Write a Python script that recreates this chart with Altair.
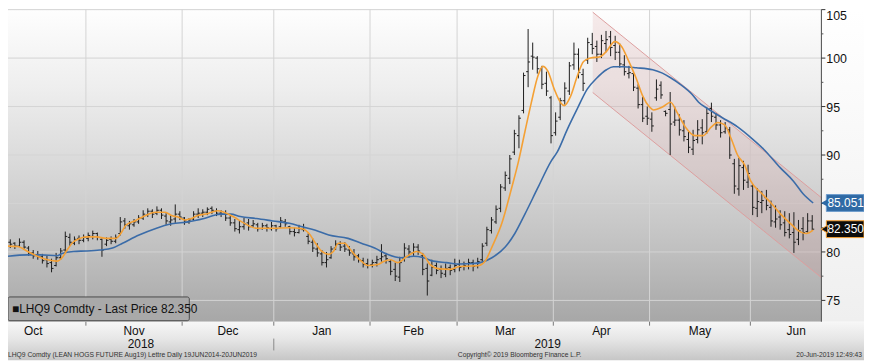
import altair as alt
import pandas as pd

# ---------------- data ----------------
high = [
    81.3, 81.0, 81.4, 81.2, 80.6, 80.2, 80.1, 79.8, 79.6, 79.3,
    79.9, 80.4, 82.1, 81.9, 81.6, 81.7, 81.8, 82.0, 82.2, 82.0,
    81.4, 81.5, 81.6, 81.8, 83.6, 83.5, 83.2, 83.4, 83.8, 84.3,
    84.5, 84.4, 84.7, 84.5, 84.0, 83.8, 84.9, 84.2, 83.6, 83.5,
    84.2, 84.5, 84.4, 84.6, 84.7, 84.5, 84.3, 84.3, 83.9, 83.4,
    83.2, 83.5, 83.4, 83.3, 83.0, 83.0, 82.9, 83.1, 82.8, 83.6,
    83.4, 82.7, 82.5, 82.8, 82.9, 81.9, 81.4, 80.9, 80.2, 80.0,
    80.6, 81.2, 81.1, 81.0, 80.6, 80.3, 79.8, 79.4, 79.3, 79.2,
    79.6, 80.8, 79.9, 79.2, 78.9, 79.5, 80.9, 80.7, 80.9, 80.8,
    79.9, 78.8, 79.2, 78.9, 78.6, 78.8, 78.7, 79.3, 79.2, 79.0,
    79.3, 79.2, 79.4, 80.9, 82.6, 83.6, 84.8, 87.0, 88.3, 90.0,
    92.6, 94.1, 98.5, 103.0, 101.6, 100.2, 99.2, 98.6, 96.1, 94.4,
    95.9, 97.5, 99.6, 101.6, 101.0, 98.9, 102.1, 102.6, 101.8, 102.4,
    102.8, 102.8, 102.3, 101.5, 100.3, 99.2, 98.4, 97.3, 96.0, 95.0,
    94.4, 97.8, 97.6, 94.6, 96.5, 95.0, 94.2, 93.6, 92.4, 92.6,
    93.6, 93.7, 94.9, 95.4, 94.3, 93.6, 93.4, 92.9, 89.6, 89.7,
    89.4, 89.0, 87.0, 86.6, 86.3, 86.4, 85.3, 84.8, 84.3, 84.2,
    84.0, 84.1, 83.3, 83.6, 84.0, 83.8,
]
low = [
    80.4, 80.3, 80.5, 80.2, 79.6, 79.3, 79.2, 78.8, 78.4, 77.9,
    78.5, 79.2, 80.0, 80.6, 80.7, 80.8, 81.0, 81.1, 81.3, 81.2,
    79.5, 80.6, 80.8, 80.9, 81.7, 82.4, 82.3, 82.6, 82.9, 83.3,
    83.6, 83.5, 83.8, 83.4, 82.8, 82.7, 83.0, 83.3, 82.8, 82.9,
    83.2, 83.5, 83.6, 83.8, 83.9, 83.7, 83.6, 83.2, 82.7, 82.1,
    81.9, 82.3, 82.2, 82.6, 82.1, 82.3, 82.1, 82.2, 82.1, 82.5,
    82.6, 81.8, 81.6, 81.9, 82.1, 80.8, 80.0, 79.5, 78.6, 78.4,
    79.3, 80.2, 80.1, 80.0, 79.6, 79.1, 78.9, 78.4, 78.3, 78.4,
    78.5, 79.0, 78.8, 77.6, 77.0, 76.9, 79.0, 79.4, 79.6, 79.7,
    77.6, 75.5, 77.5, 77.7, 77.3, 77.4, 77.6, 77.9, 78.0, 78.1,
    78.2, 78.0, 78.3, 79.0, 80.6, 81.9, 82.9, 84.1, 86.3, 87.0,
    90.0, 90.7, 94.3, 97.0, 98.8, 98.4, 96.8, 96.1, 91.2, 92.0,
    93.6, 95.2, 96.2, 98.8, 97.9, 96.6, 99.4, 100.4, 99.6, 100.0,
    100.6, 100.2, 99.8, 99.0, 98.2, 97.9, 96.6, 94.8, 93.4, 93.1,
    92.4, 95.6, 95.8, 94.0, 90.0, 93.0, 92.0, 91.4, 90.2, 90.0,
    91.2, 91.1, 92.2, 93.4, 92.6, 91.8, 92.2, 89.6, 86.0, 85.8,
    86.4, 86.6, 83.8, 83.6, 84.0, 84.3, 82.6, 82.5, 82.3, 81.6,
    81.4, 79.9, 80.7, 81.2, 82.0, 82.2,
]
open_ = [
    81.0, 80.9, 80.6, 81.0, 80.4, 79.9, 79.7, 79.5, 79.2, 78.9,
    78.6, 79.4, 80.2, 81.5, 80.9, 81.4, 81.2, 81.4, 81.6, 81.9,
    81.3, 80.8, 81.3, 81.1, 81.9, 83.2, 82.7, 82.8, 83.1, 83.5,
    83.8, 84.2, 84.0, 84.3, 83.7, 83.1, 83.4, 83.9, 83.5, 83.1,
    83.4, 83.9, 84.0, 84.1, 84.5, 84.2, 84.0, 83.9, 83.5, 83.0,
    82.3, 82.6, 83.0, 82.7, 82.8, 82.4, 82.7, 82.4, 82.7, 82.6,
    83.1, 82.6, 82.1, 82.0, 82.3, 81.6, 81.0, 80.3, 79.8, 78.9,
    79.4, 80.4, 80.8, 80.6, 80.2, 79.8, 79.6, 79.1, 78.8, 78.7,
    78.9, 79.3, 79.6, 79.0, 78.2, 77.4, 79.3, 80.3, 79.9, 80.5,
    79.6, 78.3, 77.6, 78.6, 78.2, 77.7, 78.4, 78.2, 78.7, 78.5,
    78.5, 78.9, 78.6, 79.2, 80.9, 82.2, 83.1, 84.5, 86.6, 87.6,
    90.3, 92.0, 94.6, 98.6, 100.2, 100.0, 98.9, 97.4, 95.9, 92.3,
    93.9, 95.6, 96.6, 99.3, 100.4, 98.3, 99.8, 101.4, 101.2, 100.4,
    101.5, 102.2, 101.3, 100.6, 99.3, 98.4, 98.4, 96.9, 95.2, 94.0,
    93.7, 95.9, 97.2, 94.5, 94.7, 93.4, 93.6, 92.5, 91.6, 90.6,
    91.6, 92.8, 92.4, 94.8, 93.9, 93.1, 92.4, 92.6, 89.1, 86.5,
    88.7, 87.2, 86.8, 84.5, 85.1, 85.6, 84.6, 83.1, 83.6, 83.0,
    82.3, 82.0, 81.3, 82.4, 82.1, 83.2,
]
close = [
    80.8, 80.6, 81.0, 80.5, 79.9, 79.6, 79.5, 79.1, 78.8, 78.3,
    79.4, 80.1, 81.6, 81.0, 81.3, 81.2, 81.5, 81.7, 81.9, 81.5,
    80.2, 81.2, 81.1, 81.5, 83.1, 82.8, 82.9, 83.1, 83.5, 83.9,
    84.2, 83.9, 84.3, 83.8, 83.2, 83.3, 83.9, 83.6, 83.2, 83.3,
    83.9, 84.0, 84.1, 84.4, 84.3, 84.0, 83.9, 83.5, 83.0, 82.4,
    82.6, 82.9, 82.6, 82.9, 82.4, 82.7, 82.5, 82.7, 82.4, 83.2,
    82.9, 82.1, 82.0, 82.4, 82.5, 81.1, 80.4, 79.9, 78.9, 79.2,
    80.3, 80.8, 80.5, 80.3, 79.9, 79.5, 79.2, 78.7, 78.6, 78.9,
    79.2, 79.5, 79.3, 78.0, 77.5, 78.9, 80.4, 80.0, 80.5, 80.1,
    78.2, 77.0, 78.4, 78.1, 77.8, 78.3, 78.1, 78.6, 78.4, 78.6,
    78.9, 78.5, 79.0, 80.6, 82.3, 83.3, 84.4, 86.7, 87.9, 89.6,
    92.2, 93.8, 98.2, 99.6, 100.1, 98.9, 97.3, 96.6, 92.0, 93.5,
    95.6, 96.9, 99.2, 100.4, 98.5, 97.4, 101.6, 101.0, 100.4, 101.8,
    101.9, 101.1, 100.6, 99.4, 98.6, 98.5, 97.0, 95.2, 93.8, 93.8,
    93.0, 96.8, 96.2, 94.3, 93.2, 93.6, 92.6, 91.9, 90.8, 91.5,
    92.6, 92.3, 94.3, 94.0, 93.1, 92.3, 92.8, 90.0, 86.8, 88.9,
    87.4, 88.1, 84.6, 85.2, 85.3, 84.8, 83.2, 83.4, 82.8, 82.0,
    81.8, 81.0, 82.2, 82.0, 83.2, 82.35,
]

# orange (fast) average, read as points along the curve (bar index, price)
fast_x = [-0.5, 1.6, 3.8, 5.9, 8.1, 10.2, 11.3, 12.4, 13.8, 15.2, 16.6, 18.8, 20.9,
          23.1, 24.1, 25.2, 27.4, 29.5, 31.6, 33.8, 35.2, 36.6, 38.1, 39.5, 40.9,
          43.1, 45.2, 46.6, 48.8, 50.9, 53.7, 57.3, 60.9, 63.7, 65.2, 66.6, 68.0,
          69.5, 70.5, 71.6, 73.0, 73.7, 75.2, 76.6, 78.0, 80.2, 81.6, 83.0, 84.5,
          86.6, 88.7, 90.2, 91.6, 93.7, 95.9, 98.0, 100.9, 102.3, 103.7, 105.1,
          107.3, 109.4, 110.9, 112.3, 113.7, 115.1, 116.2, 117.3, 118.7, 120.1,
          120.9, 122.3, 123.7, 125.1, 126.6, 128.7, 130.1, 131.9, 133.4, 134.8,
          136.6, 138.0, 139.4, 140.4, 142.3, 144.1, 145.5, 147.3, 149.4, 151.2,
          153.0, 154.4, 155.9, 157.3, 158.7, 160.2, 161.6, 163.7, 165.9, 168.0,
          170.2, 172.3, 173.7, 175.2]
fast_y = [80.6, 80.56, 80.05, 79.55, 79.2, 79.05, 79.4, 80.2, 81.05, 81.4, 81.55, 81.55, 81.4,
          81.4, 81.9, 82.75, 83.25, 83.75, 84.1, 84.1, 83.75, 83.6, 83.3, 83.45, 83.75,
          83.95, 84.25, 84.1, 83.6, 83.0, 82.45, 82.45, 82.5, 82.4, 81.9, 80.9, 80.05,
          79.75, 80.05, 80.9, 80.9, 80.55, 79.7, 79.05, 78.6, 78.7, 79.05, 79.2, 78.9,
          79.55, 80.05, 79.7, 78.7, 78.25, 78.2, 78.5, 78.55, 78.6, 79.1, 80.5,
          83.0, 86.6, 89.35, 92.4, 95.4, 98.1, 99.15, 98.65, 96.8, 95.4,
          95.1, 96.1, 98.1, 99.65, 100.0, 100.15, 100.7, 101.7, 101.2, 99.85,
          97.9, 96.1, 95.0, 94.65, 94.95, 95.45, 94.4, 92.9, 92.0, 92.0,
          92.9, 93.35, 93.1, 91.7, 90.0, 89.0, 87.3, 86.15, 85.1, 83.95,
          82.95, 82.1, 81.9, 82.25]

# blue (slow) average
slow_x = [-0.5, 3.8, 6.6, 10.2, 11.3, 13.8, 16.6, 19.5, 22.3, 24.5, 28.1, 31.6, 35.2,
          38.8, 42.3, 45.9, 48.1, 50.2, 53.7, 57.3, 60.9, 63.7, 66.6, 69.5, 73.7,
          76.6, 79.5, 82.3, 85.2, 88.0, 90.2, 92.3, 95.2, 98.0, 100.9, 103.0, 105.1,
          108.0, 110.1, 112.3, 115.1, 118.0, 119.4, 121.6, 123.7, 125.9, 128.0,
          130.1, 131.6, 133.7, 136.6, 140.2, 142.3, 144.0, 146.2, 148.7, 150.2,
          152.3, 155.2, 158.7, 161.6, 164.4, 168.0, 170.9, 173.0, 175.2]
slow_y = [79.55, 79.7, 79.7, 79.6, 79.85, 80.05, 80.1, 80.2, 80.4, 80.9, 81.75, 82.4, 82.9,
          83.1, 83.45, 83.9, 83.9, 83.65, 83.45, 83.2, 82.95, 82.6, 82.25, 81.75, 81.4,
          80.9, 80.4, 79.75, 79.4, 79.55, 79.4, 79.05, 78.9, 78.75, 78.8, 78.95, 79.4,
          80.5, 81.9, 83.9, 86.6, 89.35, 90.35, 92.7, 94.75, 96.8, 97.95,
          98.8, 99.1, 99.1, 99.0, 98.8, 98.45, 98.0, 97.3, 96.3, 95.45,
          94.75, 93.9, 92.9, 91.8, 90.6, 88.7, 87.3, 86.0, 85.05]

month_labels = ["Oct", "Nov", "Dec", "Jan", "Feb", "Mar", "Apr", "May", "Jun"]
month_centres = [5.0, 27.0, 47.5, 68.0, 88.0, 108.0, 129.0, 150.5, 171.5]
month_starts = [16.5, 37.5, 57.5, 78.5, 97.5, 118.5, 139.5, 161.5]
year_labels = ["2018", "2019"]
year_centres = [28.5, 117.25]
year_breaks = [57.5]
price_ticks = [75, 80, 85, 90, 95, 100, 105]
price_labelled = [75, 80, 90, 95, 100]
price_top = [105]
price_minor = [77.5, 82.5, 87.5, 92.5, 97.5, 102.5]
channel_x = [127.1, 177.0]
channel_top = [104.74, 85.6]
channel_bottom = [96.45, 77.35]
last_price = 82.35
slow_last = 85.051

# ---------------- layout ----------------
W, H = 821, 315
RIGHT, BOTTOM = 43, 39
FONT = "Liberation Sans"
BAR = "#1c1c1c"
ORANGE = "#f4a034"
BLUE = "#3b6ca8"

xs = alt.Scale(domain=[-0.5, 177.0], nice=False, zero=False)
ys = alt.Scale(domain=[72.8, 105.0], nice=False, zero=False)


def X(f):
    return alt.X(f, type="quantitative", scale=xs, axis=None)


def Y(f):
    return alt.Y(f, type="quantitative", scale=ys, axis=None)


def grad(stops):
    return alt.LinearGradient(
        gradient="linear", x1=0, x2=0, y1=0, y2=1,
        stops=[alt.GradientStop(color=c, offset=o) for o, c in stops])


one = pd.DataFrame({"k": [0]})
bars = pd.DataFrame({"i": list(range(len(close))), "o": open_, "h": high, "l": low, "c": close})
fast = pd.DataFrame({"i": fast_x, "v": fast_y})
slow = pd.DataFrame({"i": slow_x, "v": slow_y})
chan = pd.DataFrame({"i": channel_x, "top": channel_top, "bot": channel_bottom})
months = pd.DataFrame({"i": month_centres, "m": month_labels})
bounds = pd.DataFrame({"i": month_starts})
years = pd.DataFrame({"i": year_centres, "y": year_labels})
ybreak = pd.DataFrame({"i": year_breaks})
grid_df = pd.DataFrame({"v": price_ticks})
labels_df = pd.DataFrame({"v": price_labelled, "t": [str(v) for v in price_labelled]})
top_df = pd.DataFrame({"v": price_top, "t": [str(v) for v in price_top]})
minor_df = pd.DataFrame({"v": price_minor})
slow_lab = pd.DataFrame({"v": [slow_last]})
last_lab = pd.DataFrame({"v": [last_price]})

layers = []

# backgrounds
layers.append(alt.Chart(one).mark_rect(
    fill=grad([(0, "#fefefe"), (0.25, "#eeeeee"), (0.5, "#d9d9d9"), (0.75, "#c2c2c2"), (1, "#a7a7a7")])
).encode(x=alt.value(0), x2=alt.value(W), y=alt.value(0), y2=alt.value(H)))
layers.append(alt.Chart(one).mark_rect(
    fill=grad([(0, "#ffffff"), (1, "#efefef")])
).encode(x=alt.value(W), x2=alt.value(W + RIGHT), y=alt.value(0), y2=alt.value(H)))
layers.append(alt.Chart(one).mark_rect(
    fill=grad([(0, "#f7f7f7"), (0.45, "#e6e6e6"), (1, "#c6c6c6")])
).encode(x=alt.value(0), x2=alt.value(W + RIGHT), y=alt.value(H), y2=alt.value(H + BOTTOM)))

# grid
layers.append(alt.Chart(grid_df).mark_rule(color="#d3d3d3", strokeWidth=1).encode(y=Y("v")))
layers.append(alt.Chart(bounds).mark_rule(color="#d3d3d3", strokeWidth=1).encode(x=X("i")))

# trend channel
layers.append(alt.Chart(chan).mark_area(color="#c86a6a", opacity=0.13).encode(
    x=X("i"), y=Y("top"), y2=alt.Y2("bot")))
layers.append(alt.Chart(chan).mark_line(color="#dd9e9e", strokeWidth=1).encode(x=X("i"), y=Y("top")))
layers.append(alt.Chart(chan).mark_line(color="#dd9e9e", strokeWidth=1).encode(x=X("i"), y=Y("bot")))

# OHLC bars
layers.append(alt.Chart(bars).mark_rule(color=BAR, strokeWidth=1).encode(
    x=X("i"), y=Y("l"), y2=alt.Y2("h")))
layers.append(alt.Chart(bars).mark_rule(color=BAR, strokeWidth=1, xOffset=-2, x2Offset=0).encode(
    x=X("i"), x2=alt.X2("i"), y=Y("o")))
layers.append(alt.Chart(bars).mark_rule(color=BAR, strokeWidth=1, xOffset=0, x2Offset=2).encode(
    x=X("i"), x2=alt.X2("i"), y=Y("c")))

# moving averages
layers.append(alt.Chart(slow).mark_line(color=BLUE, strokeWidth=1.6, interpolate="monotone").encode(
    x=X("i"), y=Y("v")))
layers.append(alt.Chart(fast).mark_line(color=ORANGE, strokeWidth=1.6, interpolate="monotone").encode(
    x=X("i"), y=Y("v")))

# right price axis
layers.append(alt.Chart(one).mark_rule(color="#4a4a4a", strokeWidth=1).encode(
    x=alt.value(W), y=alt.value(0), y2=alt.value(H)))
layers.append(alt.Chart(grid_df).mark_rule(color="#333333", strokeWidth=1).encode(
    x=alt.value(W), x2=alt.value(W + 4), y=Y("v")))
layers.append(alt.Chart(minor_df).mark_rule(color="#555555", strokeWidth=1).encode(
    x=alt.value(W), x2=alt.value(W + 2), y=Y("v")))
layers.append(alt.Chart(labels_df).mark_text(align="left", baseline="middle", dy=1, font=FONT,
                                             fontSize=12.5, color="#111111").encode(
    x=alt.value(W + 5), y=Y("v"), text="t:N"))
layers.append(alt.Chart(top_df).mark_text(align="left", baseline="top", dy=0, font=FONT,
                                          fontSize=12.5, color="#111111").encode(
    x=alt.value(W + 5), y=Y("v"), text="t:N"))

# last value tags
layers.append(alt.Chart(slow_lab).mark_rect(color="#2f6aa5", stroke="#6d9ccc", strokeWidth=1,
                                            yOffset=-8.5, y2Offset=8.5).encode(
    x=alt.value(W + 5), x2=alt.value(W + RIGHT), y=Y("v"), y2=alt.Y2("v")))
layers.append(alt.Chart(slow_lab).mark_point(shape="triangle-left", filled=True, size=60,
                                             color="#2f6aa5", opacity=1).encode(
    x=alt.value(W + 3), y=Y("v")))
layers.append(alt.Chart(slow_lab).mark_text(align="center", baseline="middle", font=FONT,
                                            fontSize=12, color="#ffffff").encode(
    x=alt.value(W + 24.5), y=Y("v"), text=alt.Text("v:Q", format=".3f")))
layers.append(alt.Chart(last_lab).mark_rect(color="#0c0c0c", stroke=ORANGE, strokeWidth=1,
                                            yOffset=-8.5, y2Offset=8.5).encode(
    x=alt.value(W + 5), x2=alt.value(W + RIGHT), y=Y("v"), y2=alt.Y2("v")))
layers.append(alt.Chart(last_lab).mark_point(shape="triangle-left", filled=True, size=60,
                                             fill="#0c0c0c", stroke=ORANGE, strokeWidth=1,
                                             opacity=1).encode(
    x=alt.value(W + 3), y=Y("v")))
layers.append(alt.Chart(last_lab).mark_text(align="center", baseline="middle", font=FONT,
                                            fontSize=12, color="#ffffff").encode(
    x=alt.value(W + 24.5), y=Y("v"), text=alt.Text("v:Q", format=".3f")))

# legend box
layers.append(alt.Chart(one).mark_rect(fill="#a9a9a9", stroke="#4a4a4a", strokeWidth=1,
                                       cornerRadius=2).encode(
    x=alt.value(0), x2=alt.value(183), y=alt.value(290), y2=alt.value(314)))
layers.append(alt.Chart(one).mark_text(align="left", baseline="middle", font=FONT, fontSize=12,
                                       color="#111111").encode(
    x=alt.value(4), y=alt.value(302.5),
    text=alt.value("\u25a0LHQ9 Comdty - Last Price " + f"{last_price:.3f}")))

# time axis
layers.append(alt.Chart(bounds).mark_rule(color="#777777", strokeWidth=1).encode(
    x=X("i"), y=alt.value(H), y2=alt.value(H + 4)))
layers.append(alt.Chart(months).mark_text(baseline="middle", font=FONT, fontSize=12,
                                          color="#111111").encode(
    x=X("i"), y=alt.value(H + 9), text="m:N"))
layers.append(alt.Chart(years).mark_text(baseline="middle", font=FONT, fontSize=12,
                                         color="#111111").encode(
    x=X("i"), y=alt.value(H + 22.5), text="y:N"))
layers.append(alt.Chart(ybreak).mark_rule(color="#8a8a8a", strokeWidth=1).encode(
    x=X("i"), y=alt.value(H + 17), y2=alt.value(H + 29)))

# footer
layers.append(alt.Chart(one).mark_text(align="left", baseline="middle", font=FONT, fontSize=6.8,
                                       color="#333333").encode(
    x=alt.value(0), y=alt.value(H + 34),
    text=alt.value("LHQ9 Comdty (LEAN HOGS FUTURE  Aug19) Lettre  Daily 19JUN2014-20JUN2019")))
layers.append(alt.Chart(one).mark_text(align="left", baseline="middle", font=FONT, fontSize=6.8,
                                       color="#333333").encode(
    x=alt.value(454), y=alt.value(H + 34),
    text=alt.value("Copyright\u00a9 2019 Bloomberg Finance L.P.")))
layers.append(alt.Chart(one).mark_text(align="right", baseline="middle", font=FONT, fontSize=6.8,
                                       color="#333333").encode(
    x=alt.value(W + RIGHT - 2), y=alt.value(H + 34),
    text=alt.value("20-Jun-2019 12:49:43")))

chart = alt.layer(*layers).properties(
    width=W, height=H,
    padding={"left": 0, "top": 0, "right": RIGHT, "bottom": BOTTOM},
    autosize=alt.AutoSizeParams(type="none"),
    background="#ffffff",
).configure_view(strokeWidth=0)

chart.save("out.html", embed_options={"renderer": "svg", "actions": False})
